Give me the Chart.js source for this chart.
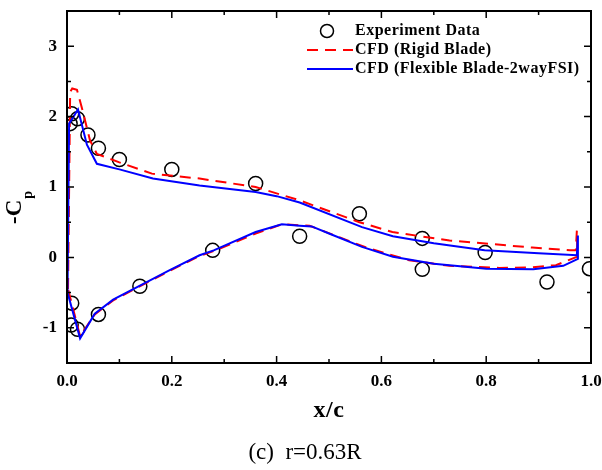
<!DOCTYPE html>
<html>
<head>
<meta charset="utf-8">
<script src="https://cdn.jsdelivr.net/npm/chart.js@4"></script>
<style>
  body { margin: 0; background: #fff; }
  #wrap { width: 602px; height: 470px; position: relative; }
</style>
</head>
<body>
<div id="wrap"><canvas id="chart"></canvas></div>
<script>
// tick labels
const xTicks = [0, 0.2, 0.4, 0.6, 0.8, 1.0];
const yTicks = [-1, 0, 1, 2, 3];

// experiment data (upper surface then lower surface)
const expX = [0.006, 0.009, 0.02, 0.04, 0.06, 0.1, 0.2, 0.36, 0.558, 0.678, 0.798, 0.997,
              0.444, 0.678, 0.916, 0.009, 0.008, 0.02, 0.06, 0.139, 0.278];
const expY = [1.9, 2.04, 1.97, 1.74, 1.55, 1.39, 1.25, 1.05, 0.62, 0.27, 0.07, -0.16,
              0.3, -0.17, -0.35, -0.65, -0.96, -1.02, -0.81, -0.41, 0.1];

// CFD rigid blade, traced as a loop: leading edge -> upper -> trailing edge -> lower -> leading edge
const rigidX = [0.002, 0.006, 0.01, 0.019, 0.03, 0.044, 0.057, 0.1, 0.162, 0.253, 0.36, 0.444,
                0.558, 0.621, 0.73, 0.888, 0.96, 0.971, 0.973, 0.974, 0.933, 0.888, 0.825, 0.73,
                0.653, 0.571, 0.463, 0.41, 0.36, 0.28, 0.253, 0.196, 0.088, 0.053, 0.025, 0.002];
const rigidY = [-0.45, 2.35, 2.4, 2.38, 2.08, 1.66, 1.47, 1.35, 1.19, 1.12, 1.0, 0.81,
                0.5, 0.36, 0.24, 0.14, 0.1, 0.1, 0.38, 0.01, -0.11, -0.14, -0.15, -0.12,
                -0.04, 0.14, 0.45, 0.47, 0.34, 0.09, 0.02, -0.19, -0.61, -0.81, -1.12, -0.45];

// CFD flexible blade (2-way FSI)
const flexX = [0.001, 0.004, 0.021, 0.038, 0.057, 0.1, 0.164, 0.253, 0.36, 0.4, 0.444, 0.563,
               0.622, 0.7, 0.797, 0.9, 0.973, 0.975, 0.975, 0.947, 0.89, 0.8, 0.7, 0.622,
               0.563, 0.5, 0.467, 0.444, 0.41, 0.36, 0.28, 0.253, 0.196, 0.088, 0.053, 0.025, 0.001];
const flexY = [-0.5, 1.9, 2.1, 1.6, 1.33, 1.25, 1.12, 1.02, 0.93, 0.87, 0.78, 0.43,
               0.3, 0.2, 0.1, 0.06, 0.03, 0.31, -0.02, -0.12, -0.17, -0.16, -0.09, 0.01,
               0.15, 0.34, 0.44, 0.45, 0.47, 0.36, 0.1, 0.03, -0.18, -0.6, -0.8, -1.15, -0.5];

const serif = "'Liberation Serif', 'Times New Roman', serif";

function pts(xs, ys) {
    return xs.map((x, i) => ({ x: x, y: ys[i] }));
}

// frame, inward ticks, legend, axis titles and caption
const decor = {
    id: 'decor',
    afterDraw(chart) {
        const ctx = chart.ctx;
        const a = chart.chartArea;
        const xs = chart.scales.x;
        const ys = chart.scales.y;
        ctx.save();
        ctx.strokeStyle = '#000';
        ctx.lineWidth = 2;
        ctx.strokeRect(a.left, a.top, a.right - a.left, a.bottom - a.top);

        ctx.lineWidth = 1.5;
        ctx.beginPath();
        for (let i = 0; i <= 10; i++) {
            const px = xs.getPixelForValue(i / 10);
            const len = i % 2 === 0 ? 7 : 4;
            ctx.moveTo(px, a.bottom); ctx.lineTo(px, a.bottom - len);
            ctx.moveTo(px, a.top); ctx.lineTo(px, a.top + len);
        }
        for (let i = 0; i <= 10; i++) {
            const v = -1.5 + i * 0.5;
            const py = ys.getPixelForValue(v);
            const len = Number.isInteger(v) ? 7 : 4;
            ctx.moveTo(a.left, py); ctx.lineTo(a.left + len, py);
            ctx.moveTo(a.right, py); ctx.lineTo(a.right - len, py);
        }
        ctx.stroke();

        // legend
        ctx.fillStyle = '#000';
        ctx.font = 'bold 16px ' + serif;
        ctx.textBaseline = 'middle';
        ctx.textAlign = 'left';
        ctx.letterSpacing = '0.5px';
        ctx.lineWidth = 1.5;
        ctx.beginPath();
        ctx.arc(327, 31, 6.5, 0, Math.PI * 2);
        ctx.stroke();
        ctx.fillText('Experiment Data', 355, 31);

        ctx.lineWidth = 2;
        ctx.strokeStyle = '#ff0000';
        ctx.setLineDash([11, 7]);
        ctx.beginPath(); ctx.moveTo(307, 50); ctx.lineTo(353, 50); ctx.stroke();
        ctx.setLineDash([]);
        ctx.fillText('CFD (Rigid Blade)', 355, 50);

        ctx.strokeStyle = '#0000ff';
        ctx.beginPath(); ctx.moveTo(307, 69); ctx.lineTo(353, 69); ctx.stroke();
        ctx.fillText('CFD (Flexible Blade-2wayFSI)', 355, 69);

        // x title
        ctx.letterSpacing = '0.5px';
        ctx.font = 'bold 24px ' + serif;
        ctx.textAlign = 'center';
        ctx.fillText('x/c', (a.left + a.right) / 2, 411);

        // caption
        ctx.letterSpacing = '0px';
        ctx.font = '23px ' + serif;
        ctx.fillText('(c)  r=0.63R', 305, 453);

        // y title  -C_p
        ctx.translate(21, 224);
        ctx.rotate(-Math.PI / 2);
        ctx.textAlign = 'left';
        ctx.textBaseline = 'alphabetic';
        ctx.font = 'bold 23px ' + serif;
        ctx.fillText('-C', 0, 0);
        const w = ctx.measureText('-C').width;
        ctx.font = 'bold 14px ' + serif;
        ctx.fillText('p', w + 1, 11);
        ctx.restore();
    }
};

const chart = new Chart(document.getElementById('chart'), {
    type: 'scatter',
    data: {
        datasets: [
            {
                label: 'Experiment Data',
                data: pts(expX, expY),
                showLine: false,
                pointRadius: 7,
                pointBorderWidth: 1.5,
                pointBorderColor: '#000',
                pointBackgroundColor: 'rgba(0,0,0,0)',
                order: 3
            },
            {
                label: 'CFD (Rigid Blade)',
                data: pts(rigidX, rigidY),
                showLine: true,
                borderColor: '#ff0000',
                borderWidth: 2,
                borderDash: [11, 7],
                pointRadius: 0,
                tension: 0,
                order: 2
            },
            {
                label: 'CFD (Flexible Blade-2wayFSI)',
                data: pts(flexX, flexY),
                showLine: true,
                borderColor: '#0000ff',
                borderWidth: 2,
                pointRadius: 0,
                tension: 0,
                order: 1
            }
        ]
    },
    options: {
        responsive: true,
        maintainAspectRatio: false,
        animation: false,
        layout: { padding: { left: 0, right: 11, top: 11, bottom: 0 } },
        plugins: {
            legend: { display: false },
            tooltip: { enabled: false }
        },
        scales: {
            x: {
                type: 'linear',
                min: 0,
                max: 1,
                afterBuildTicks: s => { s.ticks = xTicks.map(v => ({ value: v })); },
                afterFit: s => { s.height = 107; s.paddingLeft = 0; s.paddingRight = 0; },
                grid: { display: false, drawTicks: false },
                border: { display: false },
                ticks: {
                    padding: 8,
                    maxRotation: 0,
                    color: '#000',
                    font: { family: serif, size: 17, weight: 'bold' },
                    callback: v => v.toFixed(1)
                }
            },
            y: {
                type: 'linear',
                min: -1.5,
                max: 3.5,
                afterBuildTicks: s => { s.ticks = yTicks.map(v => ({ value: v })); },
                afterFit: s => { s.width = 67; s.paddingTop = 0; s.paddingBottom = 0; },
                grid: { display: false, drawTicks: false },
                border: { display: false },
                ticks: {
                    padding: 10,
                    color: '#000',
                    font: { family: serif, size: 17, weight: 'bold' },
                    callback: v => String(v)
                }
            }
        }
    },
    plugins: [decor]
});
</script>
</body>
</html>
